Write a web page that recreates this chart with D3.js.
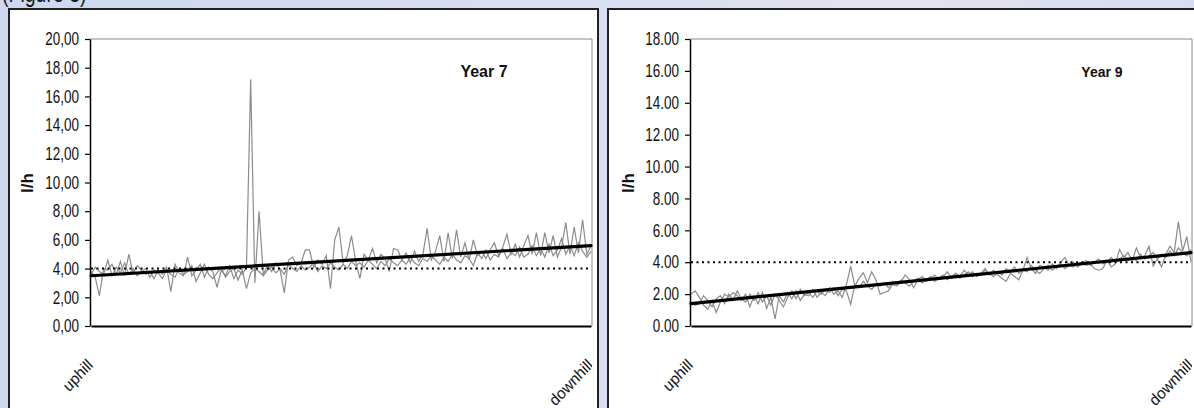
<!DOCTYPE html>
<html>
<head>
<meta charset="utf-8">
<script src="https://cdn.jsdelivr.net/npm/d3@7"></script>
<style>
  body { margin: 0; }
  svg { display: block; font-family: "Liberation Sans", Arial, sans-serif; }
  .cond { transform-box: fill-box; transform: scaleX(0.75); }
  .tick text.cond { transform-origin: 100% 50%; }
</style>
</head>
<body>
<div id="chart"></div>
<script>
// ---- data ----
var categories = ["uphill", "downhill"];

var year7a = [3.8,3.4,2.1,4.0,3.9,4.3,3.6,4.5,3.5,5.0,3.7,4.2,3.9,3.6,3.8,3.3,3.9,3.6,4.1,2.4,
  4.3,3.7,3.5,4.8,3.5,3.9,4.3,3.4,4.1,3.8,2.7,3.9,3.5,4.2,3.3,3.9,3.6,4.1,17.2,3.0,
  8.0,3.6,4.2,3.8,4.4,3.9,2.3,4.6,4.8,4.2,4.4,5.3,5.3,4.1,4.6,4.3,4.9,2.6,6.0,6.9,
  4.4,4.9,6.3,4.5,3.3,5.0,4.6,5.4,4.4,5.0,4.7,3.8,5.4,5.3,4.6,5.1,4.4,5.2,4.5,5.0,
  6.8,4.6,5.2,6.3,4.5,6.5,4.7,6.7,4.8,5.8,4.6,6.0,4.9,5.2,4.7,5.3,5.8,4.9,5.5,6.4,
  5.0,5.7,4.8,5.6,6.3,5.0,6.5,4.9,6.5,5.1,6.3,4.8,5.5,7.2,5.0,6.9,5.1,7.4,5.0,5.6];
var year7b = [3.6,4.1,3.8,3.6,4.6,3.5,4.1,3.7,4.4,3.6,4.0,3.5,3.8,4.0,3.4,3.9,3.7,3.3,3.9,3.6,
  3.4,4.0,3.6,3.8,4.2,3.1,3.7,4.3,3.6,3.3,3.7,4.1,3.4,3.8,4.0,3.2,3.9,2.6,3.7,4.0,
  3.8,3.5,3.9,4.1,3.7,4.0,3.6,4.3,4.0,3.8,4.2,3.9,4.1,4.4,3.8,4.2,4.0,4.4,4.1,3.9,
  4.3,4.0,4.5,4.2,4.4,4.1,4.6,4.3,4.0,4.5,4.2,4.7,4.4,4.2,4.6,4.3,4.8,4.4,4.2,4.7,
  4.5,4.9,4.6,4.3,4.8,4.5,5.0,4.6,4.4,4.9,4.7,4.2,5.1,4.7,5.3,4.6,5.0,4.8,5.4,4.7,
  5.1,4.9,5.5,4.8,5.0,5.6,4.9,5.4,4.8,5.7,4.9,5.3,6.1,5.0,5.6,4.9,5.8,5.2,4.8,5.2];
var year9a = [2.0,2.2,1.8,1.3,1.05,1.6,0.85,1.5,2.0,1.8,2.1,1.9,1.6,2.0,1.2,1.9,1.4,2.1,1.1,1.8,
  0.45,1.9,1.5,2.1,1.7,2.2,1.6,2.0,1.9,2.3,1.8,2.1,1.9,2.4,2.0,2.2,1.8,2.6,3.75,2.5,
  3.0,3.35,2.7,3.4,2.9,2.0,2.1,2.2,2.6,2.5,2.8,3.2,2.9,2.4,2.9,3.1,2.8,3.0,3.2,2.9,
  3.1,3.4,3.0,3.3,3.1,3.5,3.2,3.4,3.1,3.3,3.6,3.2,3.5,3.2,3.0,2.8,3.3,3.1,2.9,3.5,
  4.3,3.6,3.3,3.8,3.7,3.5,3.9,3.6,4.0,4.3,3.8,3.7,3.9,4.0,3.8,3.9,3.6,3.5,3.6,4.1,
  3.7,3.9,4.8,4.3,4.6,4.1,4.9,4.3,4.4,5.0,3.75,4.2,3.7,4.5,5.0,4.6,6.55,4.7,5.6,4.0];
var year9b = [1.5,1.3,1.4,1.9,1.6,1.2,1.7,1.9,1.4,2.0,1.6,2.2,1.7,1.5,2.0,1.6,2.1,1.5,1.9,1.3,
  2.0,1.6,1.2,1.8,2.2,1.7,2.3,1.9,2.1,1.8,2.2,2.0,2.3,2.1,2.4,1.9,2.3,2.2,1.36,2.6,
  2.4,2.8,2.5,2.3,2.6,2.5,2.7,2.4,2.8,2.6,2.9,2.7,2.5,2.8,3.0,2.7,2.9,3.1,2.8,3.0,
  3.2,2.9,3.1,3.3,3.0,3.2,3.4,3.1,3.3,3.2,3.5,3.3,3.1,3.4,3.2,3.6,3.4,3.7,3.3,3.5,
  3.4,3.8,3.5,3.3,3.6,3.8,3.5,3.7,3.9,3.6,3.8,4.0,3.7,3.9,4.1,3.8,4.0,4.2,3.9,4.0,
  4.3,4.0,4.2,4.4,4.1,4.3,4.1,4.5,4.2,4.4,4.6,4.2,4.5,4.3,4.7,4.4,4.9,4.6,4.4,4.8];

var trend7 = [3.5, 5.6];   // start, end of the linear trend
var trend9 = [1.4, 4.6];
var threshold = 4.0;       // dotted reference line
var ticks7 = [0,2,4,6,8,10,12,14,16,18,20];
var ticks9 = [0,2,4,6,8,10,12,14,16,18];

// ---- layout ----
var W = 1194, H = 408;
var svg = d3.select("#chart").append("svg")
    .attr("width", W).attr("height", H);

var defs = svg.append("defs");
var grad = defs.append("linearGradient").attr("id", "bg")
    .attr("x1", "0").attr("y1", "0").attr("x2", "1").attr("y2", "0");
grad.append("stop").attr("offset", "0").attr("stop-color", "#cdd8ef");
grad.append("stop").attr("offset", "0.5").attr("stop-color", "#d9dff2");
grad.append("stop").attr("offset", "0.75").attr("stop-color", "#e4e1f1");
grad.append("stop").attr("offset", "1").attr("stop-color", "#d6ddf2");
svg.append("rect").attr("width", W).attr("height", H).attr("fill", "url(#bg)");

svg.append("text").attr("class", "cond")
    .attr("x", 2).attr("y", 2)
    .attr("font-size", 26).attr("fill", "#1a1a1a")
    .text("(Figure 3)");

var panels = [
  {box: [9, 9, 589, 420], plot: [90, 39, 592, 326], a: year7a, b: year7b, trend: trend7,
   ticks: ticks7, max: 20, sep: ",", title: "Year 7", titleX: 484, titleSize: 16, ylabX: 33},
  {box: [608, 9, 600, 420], plot: [690, 39, 1192, 326], a: year9a, b: year9b, trend: trend9,
   ticks: ticks9, max: 18, sep: ".", title: "Year 9", titleX: 1102, titleSize: 14, ylabX: 634}
];

panels.forEach(function(p, k) {
  svg.append("rect")
      .attr("x", p.box[0]).attr("y", p.box[1])
      .attr("width", p.box[2]).attr("height", p.box[3])
      .attr("fill", "#fff").attr("stroke", "#222").attr("stroke-width", 2);

  var x0 = p.plot[0], y0 = p.plot[1], x1 = p.plot[2], y1 = p.plot[3];
  var n = p.a.length;
  var x = d3.scaleLinear().domain([0, n - 1]).range([x0 + 1, x1 - 1]);
  var y = d3.scaleLinear().domain([0, p.max]).range([y1, y0]);

  var g = svg.append("g");

  // plot area frame (grey top/right)
  g.append("path")
      .attr("d", "M" + x0 + "," + y0 + "H" + x1 + "V" + y1)
      .attr("fill", "none").attr("stroke", "#8a8a8a").attr("stroke-width", 1);

  var line = d3.line()
      .x(function(d, i) { return x(i); })
      .y(function(d) { return y(d); });

  [p.b, p.a].forEach(function(s) {
    g.append("path").datum(s)
        .attr("d", line)
        .attr("fill", "none")
        .attr("stroke", "#8c8c8c")
        .attr("stroke-width", 1.2);
  });

  // threshold dotted line
  g.append("line")
      .attr("x1", x(0)).attr("x2", x(n - 1))
      .attr("y1", y(threshold)).attr("y2", y(threshold))
      .attr("stroke", "#000").attr("stroke-width", 2)
      .attr("stroke-dasharray", "2,3.5");

  // trend line
  g.append("line")
      .attr("x1", x(0)).attr("x2", x(n - 1))
      .attr("y1", y(p.trend[0])).attr("y2", y(p.trend[1]))
      .attr("stroke", "#000").attr("stroke-width", 3.2)
      .attr("stroke-linecap", "round");

  // y axis
  var fmt = d3.format(".2f");
  var yAxis = d3.axisLeft(y)
      .tickValues(p.ticks)
      .tickSize(5).tickSizeOuter(0).tickPadding(6)
      .tickFormat(function(d) { return fmt(d).replace(".", p.sep); });
  var ya = svg.append("g")
      .attr("transform", "translate(" + x0 + ",0)")
      .call(yAxis);
  ya.select(".domain").attr("stroke", "#000").attr("stroke-width", 1.5);
  ya.selectAll(".tick line").attr("stroke", "#000").attr("stroke-width", 1.2);
  ya.selectAll(".tick text")
      .attr("class", "cond")
      .attr("fill", "#111")
      .attr("font-size", 18)
      .attr("font-family", "Liberation Sans, Arial, sans-serif");

  // x axis (category axis, no ticks)
  var xa = svg.append("g")
      .attr("transform", "translate(0," + y1 + ")")
      .call(d3.axisBottom(x).tickValues([]).tickSizeOuter(0));
  xa.select(".domain").attr("stroke", "#000").attr("stroke-width", 2);

  // category labels, clipped at plot edge
  var clipId = "clip" + k;
  defs.append("clipPath").attr("id", clipId)
    .append("rect").attr("x", p.box[0]).attr("y", y1)
      .attr("width", x1 - p.box[0]).attr("height", H - y1);
  var cl = svg.append("g").attr("clip-path", "url(#" + clipId + ")");
  [0, n - 1].forEach(function(i, j) {
    cl.append("text")
        .attr("transform", "translate(" + (x(i) + 3) + "," + (y1 + 40) + ") scale(0.95,1) rotate(-45)")
        .attr("text-anchor", "end")
        .attr("font-size", 16)
        .attr("fill", "#111")
        .text(categories[j]);
  });

  // axis title
  svg.append("text")
      .attr("transform", "translate(" + p.ylabX + "," + 183 + ") rotate(-90)")
      .attr("text-anchor", "middle")
      .attr("font-size", 17).attr("font-weight", "bold")
      .attr("fill", "#111")
      .text("l/h");

  // panel title
  svg.append("text")
      .attr("x", p.titleX).attr("y", 77)
      .attr("text-anchor", "middle")
      .attr("font-size", p.titleSize).attr("font-weight", "bold")
      .attr("fill", "#111")
      .text(p.title);
});
</script>
</body>
</html>
